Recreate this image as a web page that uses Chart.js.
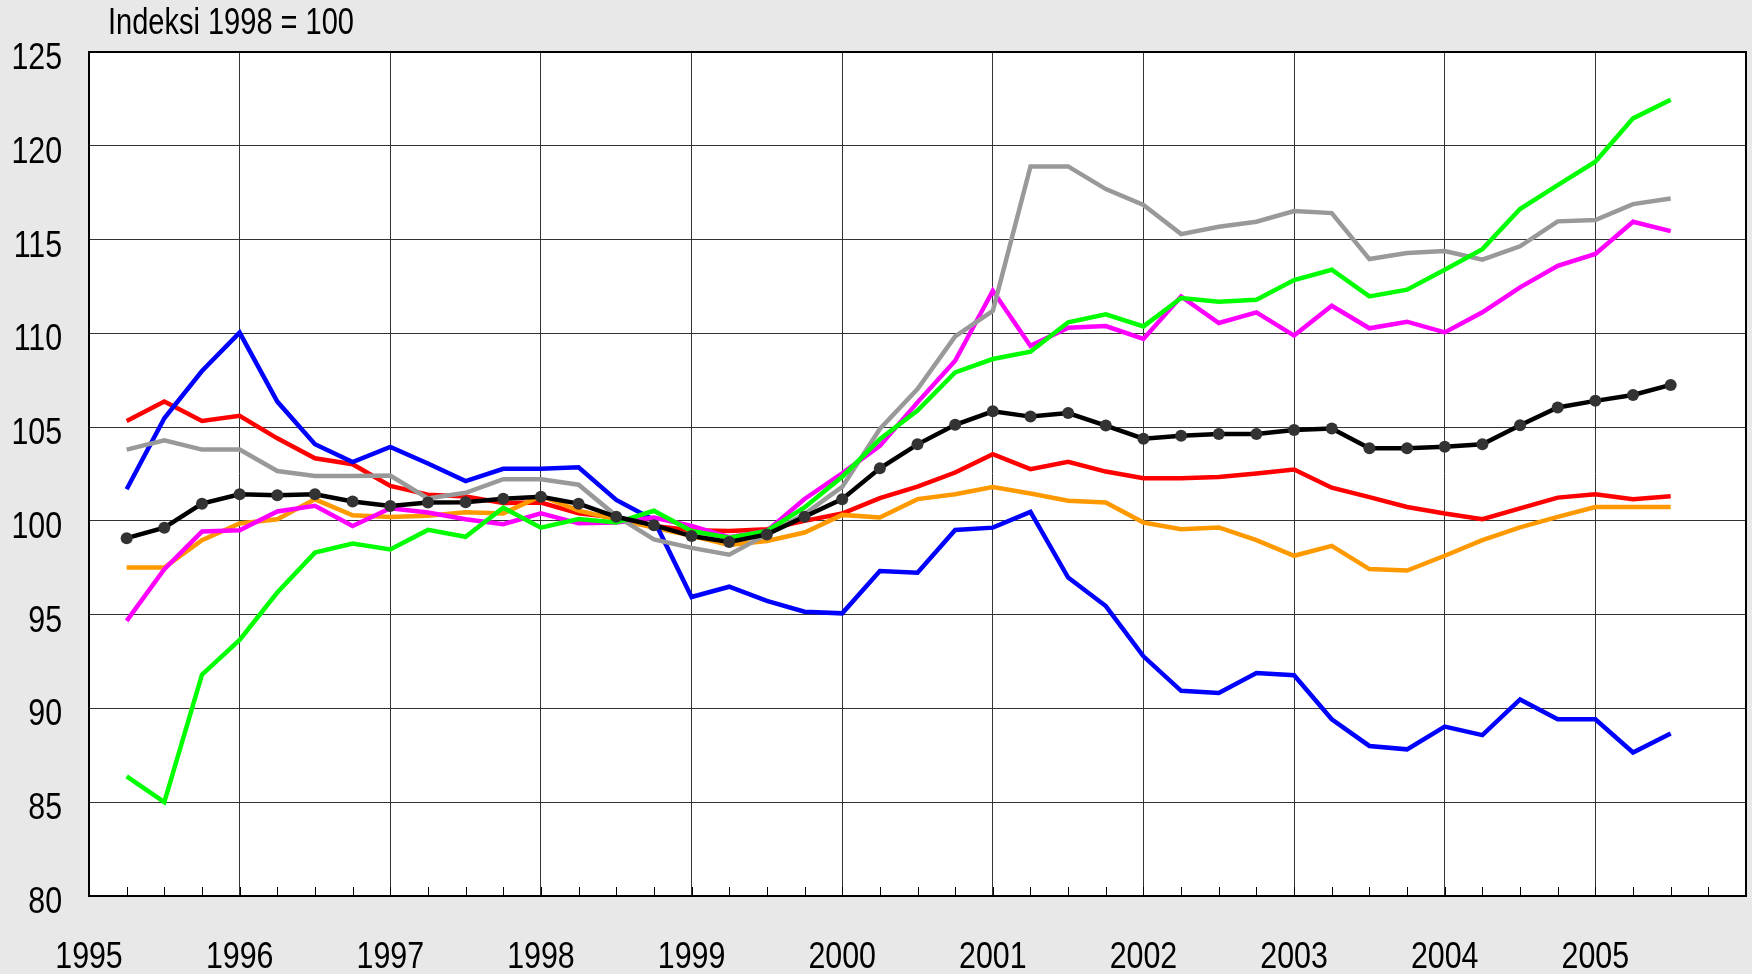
<!DOCTYPE html>
<html>
<head>
<meta charset="utf-8">
<script src="https://cdn.jsdelivr.net/npm/chart.js@4.4.1/dist/chart.umd.min.js"></script>
<style>
  html, body { margin: 0; padding: 0; background: #e8e8e8; }
  #wrap { width: 1752px; height: 974px; }
</style>
</head>
<body>
<div id="wrap"><canvas id="c" width="1752" height="974"></canvas></div>
<script>
// ---- data ----
const quarters = [1995.25,1995.5,1995.75,1996,1996.25,1996.5,1996.75,1997,1997.25,1997.5,1997.75,1998,
  1998.25,1998.5,1998.75,1999,1999.25,1999.5,1999.75,2000,2000.25,2000.5,2000.75,2001,2001.25,2001.5,
  2001.75,2002,2002.25,2002.5,2002.75,2003,2003.25,2003.5,2003.75,2004,2004.25,2004.5,2004.75,2005,
  2005.25,2005.5];
const yearLabels = ['1995','1996','1997','1998','1999','2000','2001','2002','2003','2004','2005'];
const titleText = 'Indeksi 1998 = 100';

const blueValues = [101.69,105.47,107.99,110.04,106.36,104.09,103.14,103.94,103.06,102.12,102.78,102.78,
  102.86,101.12,100.05,95.94,96.49,95.73,95.16,95.07,97.33,97.24,99.52,99.64,100.48,96.98,
  95.46,92.78,90.94,90.83,91.89,91.77,89.42,88.0,87.82,89.03,88.58,90.48,89.42,89.42,87.65,88.67];
const redValues = [105.33,106.36,105.33,105.6,104.4,103.34,103.02,101.86,101.4,101.3,100.95,100.98,
  100.4,100.18,99.73,99.5,99.46,99.56,100.0,100.39,101.21,101.83,102.58,103.56,102.76,103.15,
  102.63,102.27,102.27,102.34,102.53,102.74,101.77,101.27,100.74,100.39,100.09,100.67,101.24,101.42,101.15,101.31];
const grayValues = [103.8,104.3,103.8,103.8,102.66,102.4,102.4,102.42,101.2,101.5,102.22,102.22,
  101.93,100.27,99.01,98.56,98.2,99.28,100.36,101.81,104.9,107.03,109.84,111.2,118.9,118.9,
  117.69,116.84,115.29,115.68,115.95,116.52,116.41,113.96,114.28,114.39,113.93,114.64,115.97,116.04,116.89,117.19];
const blackValues = [99.08,99.64,100.92,101.42,101.37,101.42,101.03,100.8,100.98,101.0,101.18,101.29,
  100.92,100.22,99.77,99.19,98.88,99.28,100.22,101.16,102.8,104.08,105.12,105.84,105.56,105.75,
  105.08,104.38,104.54,104.63,104.63,104.84,104.93,103.87,103.87,103.95,104.08,105.1,106.05,106.4,106.71,107.25];
const orangeValues = [97.51,97.51,98.97,99.86,100.09,101.15,100.3,100.21,100.28,100.46,100.4,101.33,
  100.55,100.09,99.64,99.2,98.72,98.93,99.38,100.32,100.18,101.16,101.42,101.81,101.46,101.07,
  100.98,99.91,99.56,99.65,98.97,98.14,98.67,97.43,97.35,98.14,98.97,99.65,100.21,100.74,100.74,100.74];
const magentaValues = [94.67,97.42,99.43,99.5,100.5,100.8,99.73,100.67,100.45,100.09,99.82,100.4,
  99.87,99.91,100.18,99.73,99.13,99.46,101.17,102.53,104.0,106.32,108.54,112.27,109.33,110.3,
  110.39,109.7,111.97,110.55,111.12,109.88,111.47,110.27,110.62,110.05,111.12,112.45,113.6,114.23,115.95,115.45];
const greenValues = [86.38,85.0,91.8,93.65,96.18,98.31,98.79,98.48,99.52,99.15,100.7,99.64,
  100.1,99.91,100.54,99.46,99.1,99.46,100.72,102.35,104.35,105.88,107.92,108.63,109.02,110.59,
  111.01,110.37,111.88,111.69,111.79,112.84,113.39,111.97,112.33,113.39,114.49,116.63,117.9,119.15,121.46,122.45];

const FONT = "'Liberation Sans', Arial, sans-serif";
const FONT_SIZE = 37;
const NARROW = 0.82;   // horizontal squeeze to mimic a narrow grotesque

function pts(vals) { return vals.map((v, i) => ({ x: quarters[i], y: v })); }
function lineDs(label, vals, color) {
  return { label, data: pts(vals), borderColor: color, backgroundColor: color,
    borderWidth: 4.5, pointRadius: 0, tension: 0, fill: false, borderJoinStyle: 'miter' };
}

function narrowText(ctx, text, x, y, align, targetWidth) {
  ctx.save();
  ctx.font = FONT_SIZE + 'px ' + FONT;
  const w = ctx.measureText(text).width;
  const sx = targetWidth ? targetWidth / w : NARROW;
  const sw = w * sx;
  let left = x;
  if (align === 'center') left = x - sw / 2;
  else if (align === 'right') left = x - sw;
  ctx.translate(left, y);
  ctx.scale(sx, 1);
  ctx.textAlign = 'left';
  ctx.textBaseline = 'alphabetic';
  ctx.fillStyle = '#000';
  ctx.fillText(text, 0, 0);
  ctx.restore();
}

const decor = {
  id: 'decor',
  beforeDraw(chart) {
    const { ctx, chartArea: a } = chart;
    ctx.save();
    ctx.fillStyle = '#e8e8e8';
    ctx.fillRect(0, 0, chart.width, chart.height);
    ctx.fillStyle = '#ffffff';
    ctx.fillRect(a.left, a.top, a.right - a.left, a.bottom - a.top);
    ctx.restore();
  },
  afterDatasetsDraw(chart) {
    const { ctx, chartArea: a, scales } = chart;
    const xs = scales.x, ys = scales.y;
    ctx.save();
    // minor quarter ticks along the bottom
    ctx.strokeStyle = '#000';
    ctx.lineWidth = 1;
    ctx.beginPath();
    for (let v = xs.min; v <= xs.max + 1e-9; v += 0.25) {
      const px = Math.round(xs.getPixelForValue(v)) + 0.5;
      ctx.moveTo(px, a.bottom);
      ctx.lineTo(px, a.bottom - 9);
    }
    ctx.stroke();
    // frame
    ctx.lineWidth = 2;
    ctx.strokeRect(a.left, a.top, a.right - a.left, a.bottom - a.top);
    ctx.restore();

    // axis labels (positions from the library's own ticks)
    xs.ticks.forEach(t => {
      const i = Math.round(t.value) - 1995;
      const lab = yearLabels[i];
      if (lab === undefined) return;
      narrowText(ctx, lab, xs.getPixelForValue(t.value), 968, 'center');
    });
    ys.ticks.forEach(t => {
      narrowText(ctx, String(t.value), 62, ys.getPixelForValue(t.value) + 17, 'right');
    });
    // title
    narrowText(ctx, titleText, 108, 34, 'left', 246);
  }
};

new Chart(document.getElementById('c'), {
  type: 'line',
  data: {
    datasets: [
      { label: 'Keskiarvo', data: pts(blackValues), borderColor: '#000000', backgroundColor: '#333333',
        borderWidth: 4.5, pointRadius: 6, pointBackgroundColor: '#333333', pointBorderColor: '#333333',
        pointBorderWidth: 0, tension: 0, fill: false },
      lineDs('Vihreä', greenValues, '#00ff00'),
      lineDs('Harmaa', grayValues, '#999999'),
      lineDs('Violetti', magentaValues, '#ff00ff'),
      lineDs('Sininen', blueValues, '#0000ff'),
      lineDs('Oranssi', orangeValues, '#ff9900'),
      lineDs('Punainen', redValues, '#ff0000')
    ]
  },
  options: {
    responsive: false,
    animation: false,
    devicePixelRatio: 1,
    layout: { padding: { top: 52, right: 3, left: 0, bottom: 0 } },
    plugins: { legend: { display: false }, title: { display: false }, tooltip: { enabled: false } },
    scales: {
      x: {
        type: 'linear', min: 1995, max: 2006,
        afterFit(s) { s.height = 78; s.paddingLeft = 0; s.paddingRight = 0; },
        grid: { color: '#333333', lineWidth: 1, drawTicks: false },
        border: { color: '#000', width: 2 },
        ticks: { stepSize: 1, autoSkip: false, maxRotation: 0, display: false }
      },
      y: {
        min: 80, max: 125,
        afterFit(s) { s.width = 89; s.paddingTop = 0; s.paddingBottom = 0; },
        grid: { color: '#333333', lineWidth: 1, drawTicks: false },
        border: { color: '#000', width: 2 },
        ticks: { stepSize: 5, display: false }
      }
    }
  },
  plugins: [decor]
});
</script>
</body>
</html>
